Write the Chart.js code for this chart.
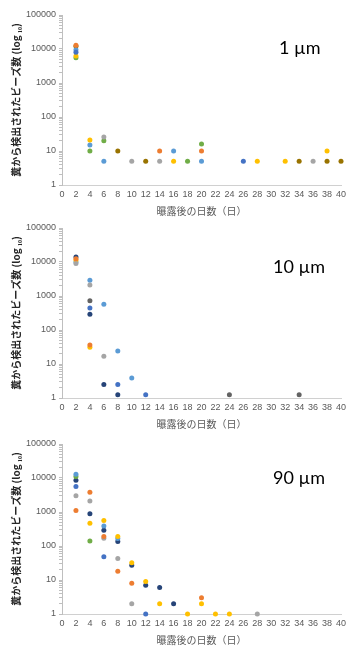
<!DOCTYPE html>
<html>
<head>
<meta charset="utf-8">
<script src="https://cdn.jsdelivr.net/npm/chart.js@4.4.1/dist/chart.umd.min.js"></script>
<style>
  html, body { margin: 0; padding: 0; background: #fff; }
  #wrap { position: relative; width: 358px; height: 651px; overflow: hidden; }
  .panel { position: absolute; left: 0; width: 358px; height: 217px; }
  .panel canvas { display: block; }
  .size { position: absolute; font-family: Lato, "Open Sans", sans-serif; font-size: 18px; color: #000; white-space: nowrap; }
</style>
</head>
<body>
<div id="wrap">
  <div class="panel" style="top:0px"><canvas id="chart1" width="358" height="217"></canvas></div>
  <div class="panel" style="top:213px"><canvas id="chart10" width="358" height="217"></canvas></div>
  <div class="panel" style="top:429px"><canvas id="chart90" width="358" height="217"></canvas></div>
  <div class="size" style="left:279px;top:36px">1 µm</div>
  <div class="size" style="left:273px;top:255px">10 µm</div>
  <div class="size" style="left:273px;top:466px">90 µm</div>
</div>
<script>
// x: days after exposure, y: beads found in faeces
const dayMin = 0;
const dayMax = 40;
const dayStep = 2;
const decades = [1, 10, 100, 1000, 10000, 100000];

// ---- 1 µm ----
const um1Blue = [[2, 8000], [26, 5]];
const um1Orange = [[2, 13000], [14, 10], [20, 10]];
const um1Gray = [[6, 26], [10, 5], [14, 5], [36, 5]];
const um1Gold = [[2, 6200], [4, 21], [16, 5], [28, 5], [32, 5], [38, 10]];
const um1LightBlue = [[2, 9500], [4, 15], [6, 5], [16, 10], [20, 5]];
const um1Green = [[2, 5500], [4, 10], [6, 20], [18, 5], [20, 16]];
const um1Olive = [[2, 12000], [8, 10], [12, 5], [34, 5], [38, 5], [40, 5]];

// ---- 10 µm ----
const um10Blue = [[4, 440], [8, 2.5], [12, 1.25]];
const um10Orange = [[2, 12500], [4, 36]];
const um10Gray = [[2, 9000], [4, 2100], [6, 17]];
const um10Gold = [[2, 11500], [4, 31]];
const um10LightBlue = [[2, 10000], [4, 2900], [6, 570], [8, 24], [10, 3.9]];
const um10Navy = [[2, 14000], [4, 290], [6, 2.5], [8, 1.25]];
const um10DarkGray = [[4, 730], [24, 1.25], [34, 1.25]];

// ---- 90 µm ----
const um90Blue = [[2, 5600], [6, 48], [12, 1]];
const um90Orange = [[2, 1100], [4, 3800], [6, 190], [8, 18], [10, 8], [20, 3]];
const um90Gray = [[2, 3000], [4, 2100], [6, 170], [8, 43], [10, 2], [28, 1]];
const um90Gold = [[4, 470], [6, 560], [8, 190], [10, 32], [12, 9], [14, 2], [18, 1], [20, 2], [22, 1], [24, 1]];
const um90LightBlue = [[2, 13000], [6, 390], [8, 165]];
const um90Green = [[2, 11000], [4, 140]];
const um90Navy = [[2, 8600], [4, 890], [6, 290], [8, 135], [10, 27], [12, 7], [14, 6], [16, 2]];

const colours = {
  blue: "#4472C4", orange: "#ED7D31", gray: "#A5A5A5", gold: "#FFC000",
  lightBlue: "#5B9BD5", green: "#70AD47", navy: "#264478",
  darkGray: "#636363", olive: "#997300"
};

const yTitle = "糞から検出されたビーズ数 (log ₁₀)";
const xTitle = "曝露後の日数（日）";

function makeSet(pairs, colour) {
  return {
    data: pairs.map((p) => ({ x: p[0], y: p[1] })),
    backgroundColor: colour,
    borderColor: colour,
    borderWidth: 0,
    pointRadius: 2.5,
    showLine: false,
    clip: false
  };
}

// minor tick marks on the log axis
function logTicks() {
  const out = [];
  decades.forEach((d, i) => {
    if (i === decades.length - 1) { out.push({ value: d }); return; }
    for (let k = 1; k <= 9; k++) out.push({ value: d * k });
  });
  return out;
}

function drawPanel(id, sets) {
  new Chart(document.getElementById(id), {
    type: "scatter",
    data: { datasets: sets },
    options: {
      responsive: false,
      animation: false,
      layout: { padding: { top: 15, right: 17, left: 0, bottom: 0 } },
      plugins: { legend: { display: false }, tooltip: { enabled: false } },
      scales: {
        x: {
          type: "linear",
          min: dayMin,
          max: dayMax,
          afterFit: (s) => { s.height = 32; },
          ticks: {
            stepSize: dayStep,
            autoSkip: false,
            maxRotation: 0,
            padding: 4,
            color: "#595959",
            font: { family: "Liberation Sans, Arial", size: 9 }
          },
          grid: { display: true, drawOnChartArea: false, drawTicks: false, color: "rgba(0,0,0,0)" },
          border: { display: true, color: "#D0D0D0", width: 1 },
          title: {
            display: true,
            text: xTitle,
            color: "#595959",
            padding: { top: 3, bottom: 0 },
            font: { family: "Noto Sans CJK JP", size: 10 }
          }
        },
        y: {
          type: "logarithmic",
          min: decades[0],
          max: decades[decades.length - 1],
          afterFit: (s) => { s.width = 62; },
          afterBuildTicks: (s) => { s.ticks = logTicks(); },
          ticks: {
            autoSkip: false,
            padding: 3,
            color: "#595959",
            font: { family: "Liberation Sans, Arial", size: 9 },
            callback: (v) => (decades.includes(v) ? String(v) : "")
          },
          grid: { drawOnChartArea: false, drawTicks: true, tickLength: 3, color: "#BFBFBF" },
          border: { display: true, color: "#BFBFBF", width: 1 },
          title: {
            display: true,
            text: yTitle,
            color: "#262626",
            padding: { top: 10, bottom: 0 },
            font: { family: "Noto Sans CJK JP", size: 10, weight: "bold" }
          }
        }
      }
    }
  });
}

drawPanel("chart1", [
  makeSet(um1Blue, colours.blue),
  makeSet(um1Orange, colours.orange),
  makeSet(um1Gray, colours.gray),
  makeSet(um1Gold, colours.gold),
  makeSet(um1LightBlue, colours.lightBlue),
  makeSet(um1Green, colours.green),
  makeSet(um1Olive, colours.olive)
]);

drawPanel("chart10", [
  makeSet(um10Blue, colours.blue),
  makeSet(um10Orange, colours.orange),
  makeSet(um10Gray, colours.gray),
  makeSet(um10Gold, colours.gold),
  makeSet(um10LightBlue, colours.lightBlue),
  makeSet(um10Navy, colours.navy),
  makeSet(um10DarkGray, colours.darkGray)
]);

drawPanel("chart90", [
  makeSet(um90Blue, colours.blue),
  makeSet(um90Orange, colours.orange),
  makeSet(um90Gray, colours.gray),
  makeSet(um90Gold, colours.gold),
  makeSet(um90LightBlue, colours.lightBlue),
  makeSet(um90Green, colours.green),
  makeSet(um90Navy, colours.navy)
]);
</script>
</body>
</html>
